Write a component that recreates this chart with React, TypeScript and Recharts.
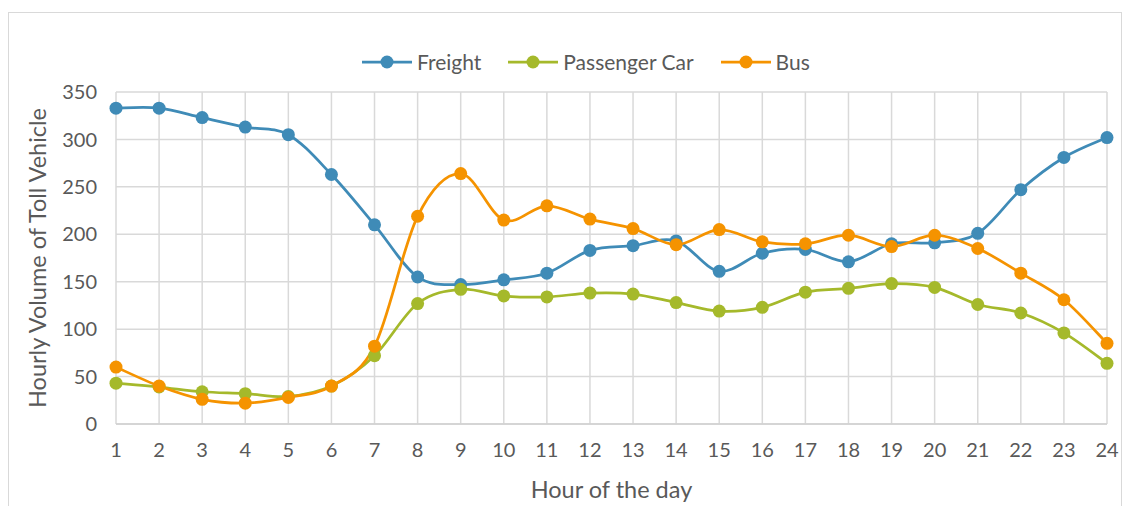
import React from 'react';
import { LineChart, Line, XAxis, YAxis, CartesianGrid, Label } from 'recharts';

const hours = [1, 2, 3, 4, 5, 6, 7, 8, 9, 10, 11, 12, 13, 14, 15, 16, 17, 18, 19, 20, 21, 22, 23, 24];
const freight = [333, 333, 323, 313, 305, 263, 210, 155, 147, 152, 159, 183, 188, 193, 161, 180, 184, 171, 190, 191, 201, 247, 281, 302];
const passengerCar = [43, 39, 34, 32, 29, 40, 72, 127, 142, 135, 134, 138, 137, 128, 119, 123, 139, 143, 148, 144, 126, 117, 96, 64];
const bus = [60, 40, 26, 22, 28, 40, 82, 219, 264, 215, 230, 216, 206, 189, 205, 192, 190, 199, 187, 199, 185, 159, 131, 85];
const yTicks = [0, 50, 100, 150, 200, 250, 300, 350];

const series = [
  { key: 'freight', name: 'Freight', color: '#3f8bb7' },
  { key: 'passengerCar', name: 'Passenger Car', color: '#a5b92b' },
  { key: 'bus', name: 'Bus', color: '#f59300' },
];

const data = hours.map((h, i) => ({
  hour: h,
  freight: freight[i],
  passengerCar: passengerCar[i],
  bus: bus[i],
}));

const FONT = 'Lato, "Open Sans", sans-serif';
const TEXT = '#595959';

// Excel-like smoothed line (Catmull-Rom as cubic beziers)
const smoothCurve = (context: any) => {
  let pts: number[][] = [];
  return {
    areaStart() {},
    areaEnd() {},
    lineStart() {
      pts = [];
    },
    point(x: number, y: number) {
      pts.push([+x, +y]);
    },
    lineEnd() {
      if (!pts.length) return;
      context.moveTo(pts[0][0], pts[0][1]);
      for (let i = 0; i < pts.length - 1; i++) {
        const p0 = pts[i - 1] || pts[i];
        const p1 = pts[i];
        const p2 = pts[i + 1];
        const p3 = pts[i + 2] || p2;
        context.bezierCurveTo(
          p1[0] + (p2[0] - p0[0]) / 6,
          p1[1] + (p2[1] - p0[1]) / 6,
          p2[0] - (p3[0] - p1[0]) / 6,
          p2[1] - (p3[1] - p1[1]) / 6,
          p2[0],
          p2[1]
        );
      }
    },
  };
};

const ChartLegend = () => (
  <div
    style={{
      position: 'absolute',
      left: 354,
      top: 42,
      display: 'flex',
      alignItems: 'center',
      fontFamily: FONT,
      fontSize: 21,
      color: TEXT,
      lineHeight: '24px',
    }}
  >
    {series.map((s) => (
      <div key={s.key} style={{ display: 'flex', alignItems: 'center', marginRight: 27 }}>
        <svg width={50} height={16} style={{ marginRight: 5 }}>
          <line x1={0} y1={8} x2={50} y2={8} stroke={s.color} strokeWidth={2.75} />
          <circle cx={25} cy={8} r={6.5} fill={s.color} />
        </svg>
        <span>{s.name}</span>
      </div>
    ))}
  </div>
);

export default function App() {
  return (
    <div style={{ position: 'relative', width: 1126, height: 498 }}>
      <div
        style={{
          position: 'absolute',
          left: 0,
          top: 4,
          width: 1114,
          height: 520,
          border: '1px solid #d9d9d9',
          boxSizing: 'border-box',
        }}
      />
      <ChartLegend />
      <div style={{ position: 'absolute', left: 0, top: 0 }}>
        <LineChart width={1126} height={498} data={data} margin={{ top: 84, right: 27, left: 0, bottom: 0 }}>
          <CartesianGrid stroke="#d9d9d9" strokeWidth={1.5} />
          <XAxis
            dataKey="hour"
            type="number"
            domain={[1, 24]}
            ticks={hours}
            interval={0}
            height={82}
            tickLine={false}
            tickMargin={13}
            axisLine={{ stroke: '#d0d0d0', strokeWidth: 1.5 }}
            tick={{ fill: TEXT, fontSize: 20, fontFamily: FONT }}
          >
            <Label
              value="Hour of the day"
              position="insideBottom"
              offset={8}
              style={{ fill: TEXT, fontSize: 23.5, fontFamily: FONT }}
            />
          </XAxis>
          <YAxis
            type="number"
            domain={[0, 350]}
            ticks={yTicks}
            width={108}
            tickLine={false}
            tickMargin={13}
            axisLine={false}
            tick={{ fill: TEXT, fontSize: 20, fontFamily: FONT }}
          >
            <Label
              value="Hourly Volume of Toll Vehicle"
              angle={-90}
              position="insideLeft"
              offset={30}
              style={{ fill: TEXT, fontSize: 23.5, fontFamily: FONT, textAnchor: 'middle' }}
            />
          </YAxis>
          {series.map((s) => (
            <Line
              key={s.key}
              dataKey={s.key}
              name={s.name}
              type={smoothCurve as any}
              stroke={s.color}
              strokeWidth={2.75}
              dot={{ r: 6.5, fill: s.color, stroke: s.color, strokeWidth: 0 }}
              activeDot={false}
              isAnimationActive={false}
            />
          ))}
        </LineChart>
      </div>
    </div>
  );
}
